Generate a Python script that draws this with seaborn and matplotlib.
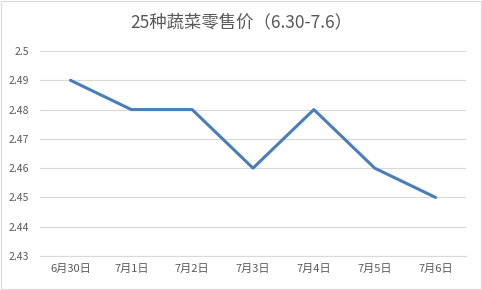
import matplotlib
matplotlib.use("Agg")
import matplotlib.pyplot as plt
import seaborn as sns
import pandas as pd
import numpy as np

dates = ["6月30日", "7月1日", "7月2日", "7月3日", "7月4日", "7月5日", "7月6日"]
prices = [2.49, 2.48, 2.48, 2.46, 2.48, 2.46, 2.45]
yticks = [2.43, 2.44, 2.45, 2.46, 2.47, 2.48, 2.49, 2.5]
title = "25种蔬菜零售价（6.30-7.6）"

sns.set_theme(style="white")
plt.rcParams['font.family'] = ['Noto Sans CJK SC', 'DejaVu Sans']

df = pd.DataFrame({"date": dates, "price": prices})

fig = plt.figure(figsize=(4.82, 2.90), dpi=100)
ax = fig.add_axes([40/482, 1-256/290, 426/482, 205/290])

sns.lineplot(data=df, x="date", y="price", ax=ax, color="#4A7EBB", linewidth=2.2, sort=False)

ax.set_xlim(-0.5, len(dates) - 0.5)
ax.set_ylim(yticks[0], yticks[-1])
ax.set_yticks(yticks)
ax.set_yticklabels([f"{v:g}" for v in yticks])
ax.set_xticks(range(len(dates)))
ax.set_xticklabels(dates)
ax.set_xticks(np.arange(-0.5, len(dates), 1.0), minor=True)
ax.tick_params(axis="x", which="major", length=0, labelsize=8, colors="#595959", pad=6)
ax.tick_params(axis="x", which="minor", length=5, color="#D9D9D9", width=0.8)
ax.tick_params(axis="y", length=0, labelsize=7.5, colors="#595959", pad=8)

ax.grid(axis="y", color="#D9D9D9", linewidth=0.8)
ax.set_axisbelow(True)
for s in ["top", "right", "left"]:
    ax.spines[s].set_visible(False)
ax.spines["bottom"].set_color("#D9D9D9")
ax.spines["bottom"].set_linewidth(0.8)
ax.set_xlabel("")
ax.set_ylabel("")

fig.text(0.5, 1 - 22/290, title, ha="center", va="center", fontsize=12.5, color="#595959")

border = plt.Rectangle((0.002, 0.003), 0.996, 0.994, transform=fig.transFigure,
                       fill=False, edgecolor="#D9D9D9", linewidth=0.8)
fig.patches.append(border)

fig.savefig("out.png", dpi=100, facecolor="white")
